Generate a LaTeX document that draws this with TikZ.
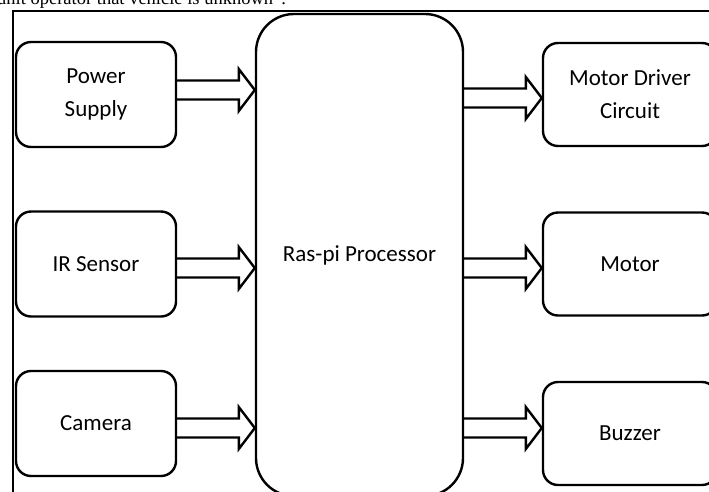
\documentclass[tikz,border=0pt]{standalone}
\usepackage{fontspec}
\setmainfont{Carlito}
\newfontfamily\paperfont{Liberation Serif}
\usetikzlibrary{calc}

\begin{document}
\begin{tikzpicture}[
 x=1pt, y=-1pt,
 box/.style={draw, line width=2.4pt, rounded corners=15pt, minimum width=160pt, minimum height=105pt, align=center, font=\fontsize{23}{33}\selectfont},
 outbox/.style={box, minimum width=174pt, minimum height=103pt},
 cpubox/.style={box, rounded corners=38pt, minimum width=207pt, minimum height=482pt},
 fatarrow/.style={draw, line width=2.4pt, line join=miter, to path={
   let \p1=(\tikztostart), \p2=(\tikztotarget) in
   (\x1,\y1+9.5pt) -- (\x2-16pt,\y1+9.5pt) -- (\x2-16pt,\y1+21pt) -- (\x2,\y1)
   -- (\x2-16pt,\y1-21pt) -- (\x2-16pt,\y1-9.5pt) -- (\x1,\y1-9.5pt)}}
]
\useasboundingbox (0,0) rectangle (709,491);

% text of the page above the figure
\node[anchor=base west, inner sep=0, font=\paperfont\fontsize{18.5}{22}\selectfont] (caption) at (-3,4) {unit operator that vehicle is unknown”.};

% frame
\draw[line width=2pt] (13,11) rectangle (740,520);

% inputs
\node[box] (power) at (96,94.5) {Power\\Supply};
\node[box] (ir) at (96,264) {IR Sensor};
\node[box] (camera) at (96,423.5) {Camera};

% processor
\node[cpubox] (cpu) at (359.5,255) {Ras-pi Processor};

% outputs
\node[outbox] (driver) at (630,94.5) {Motor Driver\\Circuit};
\node[outbox] (motor) at (630,264) {Motor};
\node[outbox] (buzzer) at (630,433.5) {Buzzer};

% arrows
\draw[fatarrow] ([yshift=4.5pt]power.east) to (cpu.west);
\draw[fatarrow] ([yshift=-4pt]ir.east) to (cpu.west);
\draw[fatarrow] ([yshift=-4.5pt]camera.east) to (cpu.west);
\draw[fatarrow] ($(cpu.east |- driver.west)+(0,3.5)$) to (driver.west);
\draw[fatarrow] ($(cpu.east |- motor.west)+(0,4)$) to (motor.west);
\draw[fatarrow] ($(cpu.east |- buzzer.west)+(0,-5.5)$) to (buzzer.west);

\end{tikzpicture}
\end{document}
